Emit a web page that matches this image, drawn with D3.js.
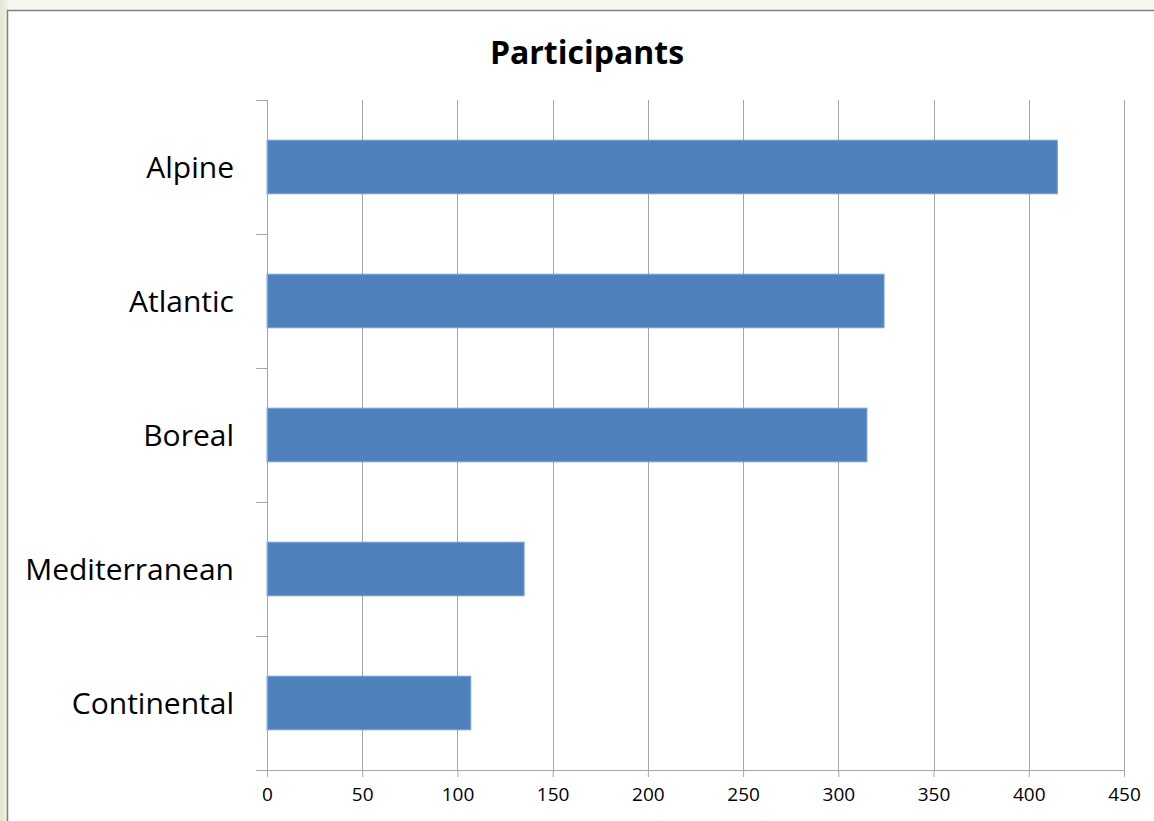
<!DOCTYPE html>
<html>
<head>
<meta charset="utf-8">
<script src="https://cdn.jsdelivr.net/npm/d3@7"></script>
<style>
  body { margin: 0; background: #f7f7f2; }
  svg { display: block; }
  text { font-family: "Open Sans", "Liberation Sans", sans-serif; fill: #000; }
</style>
</head>
<body>
<svg id="chart" width="1154" height="821"></svg>
<script>
// data
var regions = ["Alpine", "Atlantic", "Boreal", "Mediterranean", "Continental"];
var participants = [415, 324, 315, 135, 107];
var xTicks = [0, 50, 100, 150, 200, 250, 300, 350, 400, 450];

var svg = d3.select("#chart");

// greenish strip on the left, then the chart frame
var grad = svg.append("defs").append("linearGradient").attr("id", "side")
  .attr("x1", 0).attr("x2", 1);
grad.append("stop").attr("offset", 0).attr("stop-color", "#dfe9d0");
grad.append("stop").attr("offset", 1).attr("stop-color", "#eef2e6");
svg.append("rect").attr("x", 0).attr("y", 0).attr("width", 8).attr("height", 821)
  .attr("fill", "url(#side)");
svg.append("rect").attr("x", 7.5).attr("y", 10.5).attr("width", 1160).attr("height", 820)
  .attr("fill", "#fff").attr("stroke", "#808080").attr("stroke-width", 1.5);

var margin = {left: 267, right: 30, top: 100, bottom: 51};
var w = 1124 - margin.left, h = 770 - margin.top;

var g = svg.append("g").attr("transform", "translate(" + margin.left + "," + margin.top + ")");

var x = d3.scaleLinear().domain([0, 450]).range([0, w]);
var y = d3.scaleBand().domain(regions).range([0, h]).paddingInner(0.6).paddingOuter(0.3);

// vertical gridlines
g.selectAll("line.grid").data(xTicks.slice(1)).enter().append("line")
  .attr("class", "grid")
  .attr("x1", function(d) { return Math.round(x(d)) + 0.5; })
  .attr("x2", function(d) { return Math.round(x(d)) + 0.5; })
  .attr("y1", 0).attr("y2", h)
  .attr("stroke", "#a6a6a6").attr("stroke-width", 1);

// bars
g.selectAll("rect.bar").data(regions).enter().append("rect")
  .attr("class", "bar")
  .attr("x", 0)
  .attr("y", function(d) { return y(d); })
  .attr("width", function(d, i) { return x(participants[i]); })
  .attr("height", y.bandwidth())
  .attr("fill", "#4f81bd")
  .attr("stroke", "#7ba0cf").attr("stroke-width", 1);

// x axis
var xAxis = g.append("g").attr("transform", "translate(0," + h + ")")
  .call(d3.axisBottom(x).tickValues(xTicks).tickSize(7).tickPadding(11));
xAxis.select(".domain").attr("stroke", "#a6a6a6");
xAxis.selectAll(".tick line").attr("stroke", "#a6a6a6");
xAxis.selectAll("text").style("font-size", "19px").attr("fill", "#000");

// y axis: ticks sit on category boundaries, labels centred on the bands
var bounds = d3.range(regions.length + 1).map(function(i) { return i * h / regions.length; });
g.append("line").attr("x1", 0.5).attr("x2", 0.5).attr("y1", 0).attr("y2", h)
  .attr("stroke", "#a6a6a6");
g.selectAll("line.ytick").data(bounds).enter().append("line")
  .attr("class", "ytick")
  .attr("x1", -11).attr("x2", 0)
  .attr("y1", function(d) { return Math.round(d) + 0.5; })
  .attr("y2", function(d) { return Math.round(d) + 0.5; })
  .attr("stroke", "#a6a6a6");
g.selectAll("text.cat").data(regions).enter().append("text")
  .attr("class", "cat")
  .attr("x", -33)
  .attr("y", function(d) { return y(d) + y.bandwidth() / 2; })
  .attr("dy", "0.35em")
  .attr("text-anchor", "end")
  .style("font-size", "30px")
  .text(function(d) { return d; });

// title
svg.append("text").attr("x", 587).attr("y", 64)
  .attr("text-anchor", "middle")
  .style("font-size", "32px").style("font-weight", "bold")
  .text("Participants");
</script>
</body>
</html>
